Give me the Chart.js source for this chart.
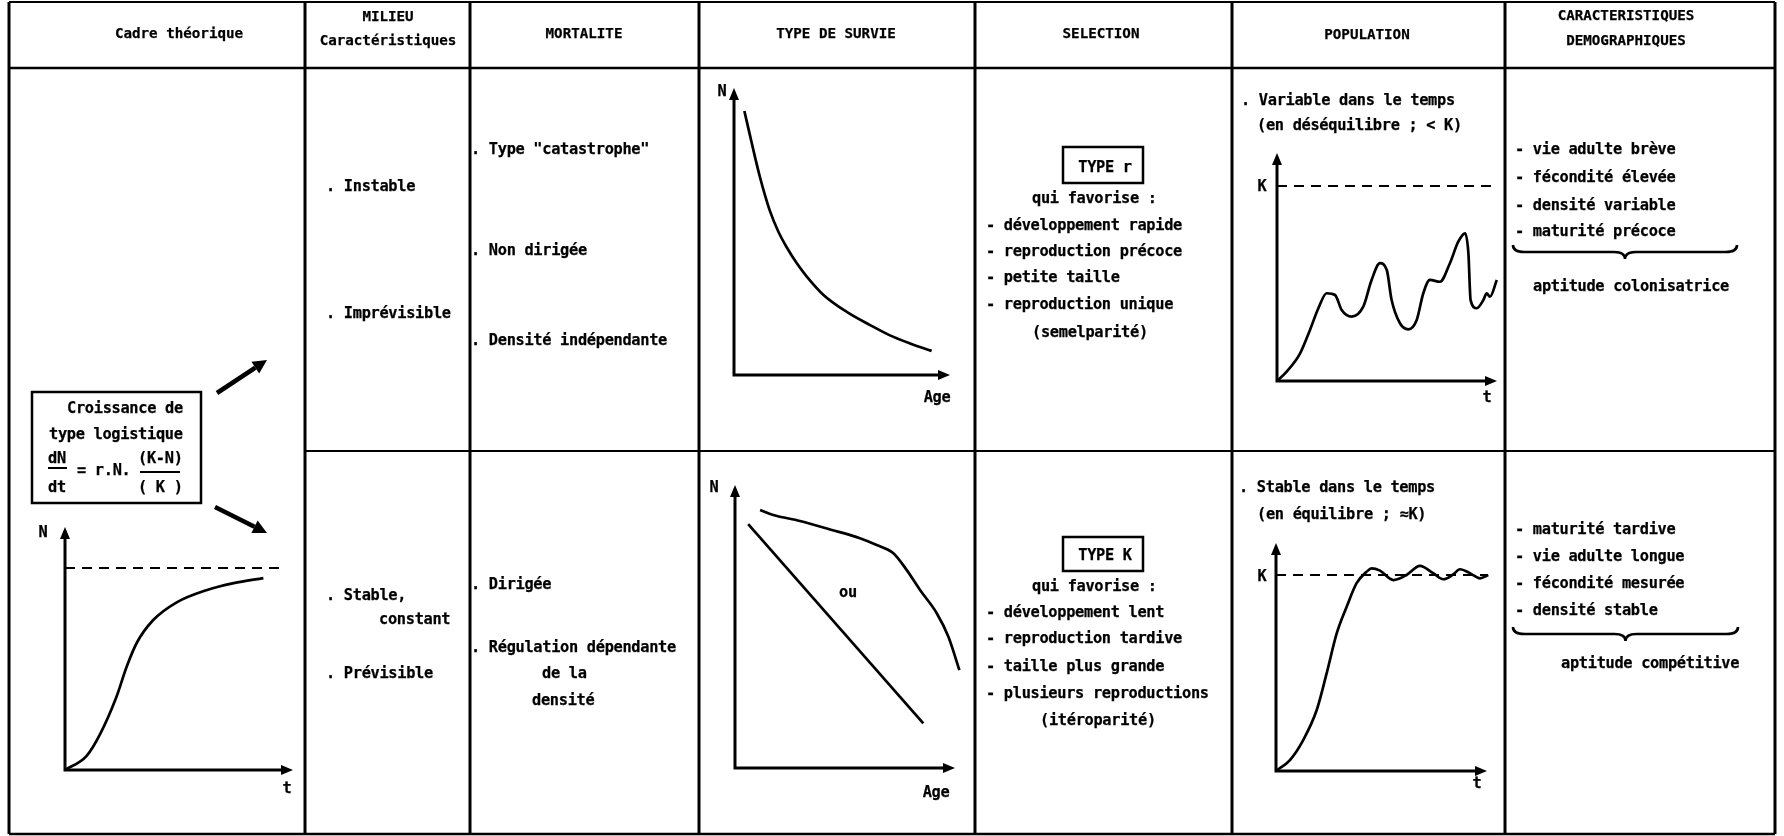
<!DOCTYPE html>
<html>
<head>
<meta charset="utf-8">
<script src="https://cdn.jsdelivr.net/npm/chart.js@4.4.1/dist/chart.umd.min.js"></script>
<style>
  html, body { margin: 0; padding: 0; background: #fff; }
  #page { position: relative; width: 1784px; height: 836px; overflow: hidden;
          font-family: "DejaVu Sans Mono", monospace; font-weight: bold; font-size: 15.3px;
          letter-spacing: -0.3px; color: #000; -webkit-text-stroke: 0.25px #000; }
  .t { position: absolute; white-space: pre; line-height: 18px; }
  .c { transform: translateX(-50%); }
  .h { font-size: 14.2px; letter-spacing: 0; }
  canvas { position: absolute; }
  svg { position: absolute; left: 0; top: 0; }
</style>
</head>
<body>
<div id="page"><svg id="grid" width="1784" height="836"></svg></div>
<script>
// ---- texts ----
const headers = ["Cadre théorique", "MILIEU", "Caractéristiques", "MORTALITE", "TYPE DE SURVIE",
                 "SELECTION", "POPULATION", "CARACTERISTIQUES", "DEMOGRAPHIQUES"];
const milieuTop = [". Instable", ". Imprévisible"];
const milieuBot = [". Stable,", "constant", ". Prévisible"];
const mortTop = ['. Type "catastrophe"', ". Non dirigée", ". Densité indépendante"];
const mortBot = [". Dirigée", ". Régulation dépendante", "de la", "densité"];
const selTop = ["qui favorise :", "- développement rapide", "- reproduction précoce",
                "- petite taille", "- reproduction unique", "(semelparité)"];
const selBot = ["qui favorise :", "- développement lent", "- reproduction tardive",
                "- taille plus grande", "- plusieurs reproductions", "(itéroparité)"];
const selTypes = ["TYPE r", "TYPE K"];
const popTop = [". Variable dans le temps", "(en déséquilibre ; < K)"];
const popBot = [". Stable dans le temps", "(en équilibre ; ≈K)"];
const demoTop = ["- vie adulte brève", "- fécondité élevée", "- densité variable", "- maturité précoce"];
const demoBot = ["- maturité tardive", "- vie adulte longue", "- fécondité mesurée", "- densité stable"];
const demoAptitude = ["aptitude colonisatrice", "aptitude compétitive"];
const formula = ["Croissance de", "type logistique", "dN", "= r.N.", "(K-N)", "dt", "( K )"];

// ---- curve values (time / age 0..10, N with K = 100) ----
const logT = [0, 0.95, 1.55, 2.25, 2.7, 3.15, 3.85, 4.9, 6.2, 7.4, 8.7];
const logN = [0, 7, 18, 36, 51, 63, 74, 83, 89, 92.5, 95];
const logKEnd = 9.4;

const surv1Age = [0.48, 0.74, 0.97, 1.2, 1.44, 1.67, 2.05, 2.44, 2.9, 3.37, 4.13, 5.22, 6.3, 7.22, 8.15, 9.15];
const surv1N = [92, 83.5, 76, 69, 62.5, 57, 50, 44.5, 39, 34.3, 28, 22, 17.4, 13.8, 11, 8.4];

const surv2Age = [0.6, 8.56];
const surv2N = [86.2, 15.8];
const surv3Age = [1.14, 1.74, 2.95, 4.32, 5.68, 6.44, 7.2, 7.8, 8.41, 9.17, 9.7, 10.2];
const surv3N = [91.2, 89.4, 87.3, 84.3, 81.2, 78.8, 75.9, 70, 62.9, 54.7, 46.4, 34.6];

const popRT = [0, 0.44, 1.05, 1.5, 1.88, 2.26, 2.64, 2.94, 3.4, 3.92, 4.3, 4.68, 4.99, 5.21, 5.59, 5.97,
               6.35, 6.65, 6.95, 7.41, 7.86, 8.24, 8.55, 8.7, 8.8, 9.08, 9.38, 9.53, 9.68, 9.99];
const popRN = [0, 4.8, 14.2, 26.2, 37.3, 45, 44.1, 36.4, 33, 38.1, 51.8, 60.4, 56.9, 41.5, 29.6, 26.5,
               31.3, 45, 51.8, 50.9, 60.4, 71.4, 75.7, 65.5, 41.5, 37.3, 41.5, 45, 43.2, 51.8];
const popRKEnd = 9.95;

const popKT = [0, 0.66, 1.29, 1.93, 2.4, 2.88, 3.35, 3.82, 4.3, 4.53, 4.93, 5.56, 6.19, 6.82, 7.45,
               7.93, 8.4, 8.72, 9.19, 9.67, 10.06];
const popKN = [0, 5.6, 15.8, 31.1, 49.8, 70.3, 83.8, 95.8, 101.7, 103.4, 102.2, 97.4, 100, 104.6, 100.9,
               97.8, 100.3, 102.9, 100.9, 98.3, 100];
const popKKEnd = 10.05;

const K = 100;

// ---- helpers ----
const page = document.getElementById('page');
const svg = document.getElementById('grid');
const NS = 'http://www.w3.org/2000/svg';

function text(str, x, y, cls) {
  const d = document.createElement('div');
  d.className = 't' + (cls ? ' ' + cls : '');
  d.textContent = str;
  d.style.left = x + 'px';
  d.style.top = (y - 9) + 'px';
  page.appendChild(d);
}
function textList(list, xs, ys, cls) {
  list.forEach((s, i) => text(s, Array.isArray(xs) ? xs[i] : xs, ys[i], cls));
}
function svgEl(tag, attrs) {
  const e = document.createElementNS(NS, tag);
  for (const k in attrs) e.setAttribute(k, attrs[k]);
  svg.appendChild(e);
  return e;
}
function line(x1, y1, x2, y2, w) {
  svgEl('line', { x1, y1, x2, y2, stroke: '#000', 'stroke-width': w });
}
function arrow(x1, y1, x2, y2) {
  const a = Math.atan2(y2 - y1, x2 - x1), L = 14, W = 7;
  const bx = x2 - L * Math.cos(a), by = y2 - L * Math.sin(a);
  line(x1, y1, bx, by, 4.5);
  const px = -Math.sin(a) * W, py = Math.cos(a) * W;
  svgEl('polygon', { points: `${x2},${y2} ${bx + px},${by + py} ${bx - px},${by - py}`, fill: '#000' });
}
function brace(x1, x2, y, h) {
  const m = (x1 + x2) / 2;
  svgEl('path', {
    d: `M${x1} ${y - h} Q${x1} ${y} ${x1 + h * 1.6} ${y} L${m - h * 1.6} ${y} Q${m} ${y} ${m} ${y + h}` +
       ` Q${m} ${y} ${m + h * 1.6} ${y} L${x2 - h * 1.6} ${y} Q${x2} ${y} ${x2} ${y - h}`,
    fill: 'none', stroke: '#000', 'stroke-width': 2.6
  });
}

// ---- table grid ----
const colX = [9, 305, 470, 699, 975, 1232, 1505, 1775];
const topY = 2, headY = 68, midY = 451, botY = 834;
colX.forEach(x => line(x, topY, x, botY, 3));
line(colX[0], topY, colX[7], topY, 2);
line(colX[0], botY, colX[7], botY, 2.5);
line(colX[0], headY, colX[7], headY, 2.5);
line(colX[1], midY, colX[7], midY, 2);

// ---- headers ----
const headX = [179, 388, 388, 584, 836, 1101, 1367, 1626, 1626];
const headYs = [33, 16, 40, 33, 33, 33, 34, 15, 40];
headers.forEach((h, i) => text(h, headX[i], headYs[i], 'c h'));

// ---- cell texts ----
textList(milieuTop, 326, [186, 313]);
textList(milieuBot, [326, 379, 326], [595, 619, 673]);
textList(mortTop, 471, [149, 250, 340]);
textList(mortBot, [471, 471, 542, 532], [584, 647, 673, 700]);
textList(selTop, [1032, 986, 986, 986, 986, 1032], [198, 225, 251, 277, 304, 332]);
textList(selBot, [1032, 986, 986, 986, 986, 1040], [586, 612, 638, 666, 693, 720]);
textList(popTop, [1241, 1257], [100, 125]);
textList(popBot, [1239, 1257], [487, 514]);
textList(demoTop, 1515, [149, 177, 205, 231]);
textList(demoBot, 1515, [529, 556, 583, 610]);
textList(demoAptitude, [1533, 1561], [286, 663]);

// type boxes
svgEl('rect', { x: 1063, y: 147, width: 80, height: 36, fill: 'none', stroke: '#000', 'stroke-width': 2.5 });
svgEl('rect', { x: 1063, y: 537, width: 80, height: 34, fill: 'none', stroke: '#000', 'stroke-width': 2.5 });
text(selTypes[0], 1105, 167, 'c');
text(selTypes[1], 1105, 555, 'c');

// braces
brace(1513, 1737, 252, 7);
brace(1513, 1738, 634, 7);

// formula box and arrows
svgEl('rect', { x: 32, y: 392, width: 169, height: 111, fill: 'none', stroke: '#000', 'stroke-width': 2.5 });
textList(formula, [67, 49, 48, 77, 138, 48, 138], [408, 434, 458, 470, 458, 487, 487]);
line(48, 468, 67, 468, 2);
line(140, 472, 180, 472, 2);
arrow(217, 393, 267, 360);
arrow(215, 507, 267, 533);

// ---- mini charts ----
const axesPlugin = {
  id: 'axesArrows',
  beforeDatasetsDraw(chart) {
    const { ctx, chartArea: a } = chart;
    ctx.save();
    ctx.strokeStyle = '#000';
    ctx.fillStyle = '#000';
    ctx.lineWidth = 3;
    ctx.beginPath();
    ctx.moveTo(a.left, a.top + 8);
    ctx.lineTo(a.left, a.bottom);
    ctx.lineTo(a.right - 8, a.bottom);
    ctx.stroke();
    ctx.beginPath();
    ctx.moveTo(a.left, a.top); ctx.lineTo(a.left - 5, a.top + 12); ctx.lineTo(a.left + 5, a.top + 12);
    ctx.closePath(); ctx.fill();
    ctx.beginPath();
    ctx.moveTo(a.right, a.bottom); ctx.lineTo(a.right - 12, a.bottom - 5); ctx.lineTo(a.right - 12, a.bottom + 5);
    ctx.closePath(); ctx.fill();
    ctx.restore();
  }
};

function pts(xs, ys) { return xs.map((x, i) => ({ x, y: ys[i] })); }
function curve(xs, ys, straight) {
  return { data: pts(xs, ys), borderColor: '#000', borderWidth: 2.7, pointRadius: 0,
           tension: straight ? 0 : 0.4, cubicInterpolationMode: straight ? 'default' : 'monotone',
           fill: false, clip: false };
}
function kLine(end) {
  return { data: pts([0, end], [K, K]), borderColor: '#000', borderWidth: 2, borderDash: [10, 7],
           pointRadius: 0, fill: false, clip: false };
}

function miniChart(cell, plot, yMax, datasets) {
  const c = document.createElement('canvas');
  const w = cell[2] - cell[0], h = cell[3] - cell[1];
  c.width = w; c.height = h;
  c.style.left = cell[0] + 'px'; c.style.top = cell[1] + 'px';
  c.style.width = w + 'px'; c.style.height = h + 'px';
  page.insertBefore(c, svg);
  new Chart(c.getContext('2d'), {
    type: 'line',
    data: { datasets },
    options: {
      responsive: false, animation: false, devicePixelRatio: 1,
      layout: { padding: { left: plot[0] - cell[0], top: plot[1] - cell[1],
                           right: cell[2] - plot[2], bottom: cell[3] - plot[3] } },
      plugins: { legend: { display: false }, tooltip: { enabled: false } },
      scales: {
        x: { type: 'linear', min: 0, max: 10, display: false },
        y: { type: 'linear', min: 0, max: yMax, display: false }
      }
    },
    plugins: [axesPlugin]
  });
}

// cadre: logistic growth
miniChart([12, 505, 303, 832], [65, 527, 293, 770], 120.3, [kLine(logKEnd), curve(logT, logN)]);
// survie type I
miniChart([701, 70, 973, 449], [734, 88, 950, 375], 100, [curve(surv1Age, surv1N)]);
// survie types II / III
miniChart([701, 453, 973, 832], [735, 485, 955, 768], 100, [curve(surv2Age, surv2N, true), curve(surv3Age, surv3N)]);
// population r
miniChart([1234, 70, 1503, 449], [1277, 153, 1497, 381], 116.9, [kLine(popRKEnd), curve(popRT, popRN)]);
// population K
miniChart([1234, 453, 1503, 832], [1276, 543, 1487, 771], 116.3, [kLine(popKKEnd), curve(popKT, popKN)]);

// axis labels
const axisNames = ["N", "t", "N", "Age", "N", "Age", "ou", "K", "t", "K", "t"];
const axisX = [43, 287, 722, 937, 714, 936, 848, 1262, 1487, 1262, 1477];
const axisY = [532, 788, 91, 397, 487, 792, 592, 186, 397, 576, 783];
axisNames.forEach((s, i) => text(s, axisX[i], axisY[i], 'c'));
</script>
</body>
</html>
